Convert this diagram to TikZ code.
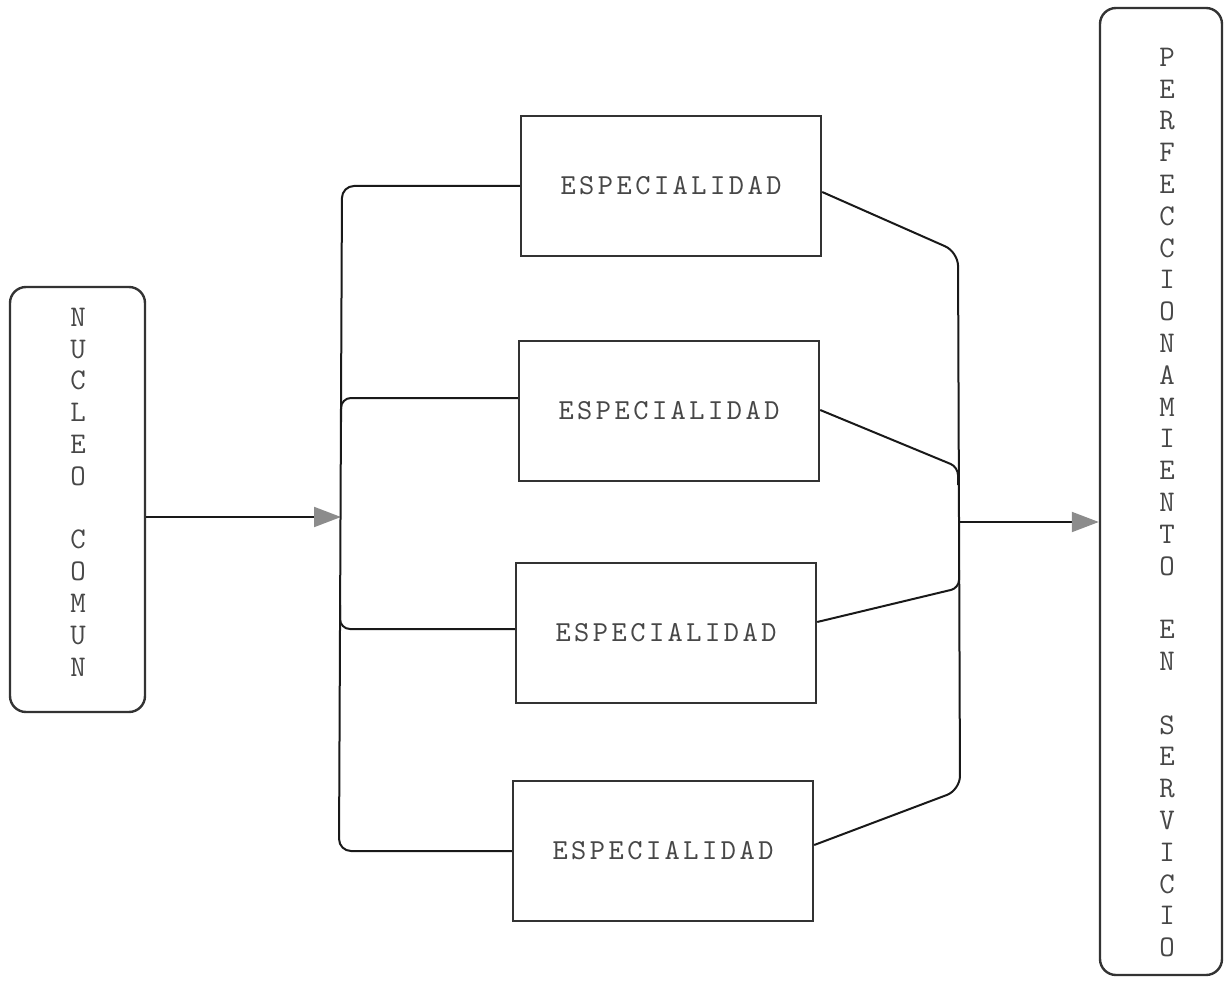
\documentclass[tikz,border=0pt]{standalone}
\usepackage{fontspec}
\newfontfamily\spacedmono{lmmono10-regular.otf}[LetterSpace=12]
\usetikzlibrary{arrows.meta}
\begin{document}
\begin{tikzpicture}[x=1pt,y=-1pt,
  box/.style={draw=black!80, line width=2.4pt, minimum width=300pt, minimum height=140pt, inner sep=0pt,
    text=black!72, font=\spacedmono\fontsize{29}{32}\selectfont},
  tall/.style={draw=black!80, line width=2.4pt, rounded corners=16pt, inner sep=0pt},
  col/.style={text=black!72, align=center, inner sep=0pt, font=\ttfamily\fontsize{30}{31.8}\selectfont},
  wire/.style={line width=2pt, black!90},
  arr/.style={wire, -{Triangle[length=27pt,width=20pt,color=black!45]}},
]
\useasboundingbox (0,0) rectangle (1225,981);

% left box
\node[tall, minimum width=135pt, minimum height=425pt] (nuc) at (77.5,499.5) {};
\node[col] (nucT) at (78,492) {N\\U\\C\\L\\E\\O\\[31.8pt]C\\O\\M\\U\\N};

% right tall box
\node[tall, minimum width=122pt, minimum height=967pt] (perf) at (1161,491.5) {};
\node[col] (perfT) at (1167,502.5) {P\\E\\R\\F\\E\\C\\C\\I\\O\\N\\A\\M\\I\\E\\N\\T\\O\\[31.8pt]E\\N\\[31.8pt]S\\E\\R\\V\\I\\C\\I\\O};

% specialty boxes
\node[box] (e1) at (671,186) {ESPECIALIDAD\hspace{17pt}};
\node[box] (e2) at (669,411) {ESPECIALIDAD\hspace{17pt}};
\node[box] (e3) at (666,633) {ESPECIALIDAD\hspace{17pt}};
\node[box] (e4) at (663,851) {ESPECIALIDAD\hspace{17pt}};

% input arrow
\coordinate (bin) at (341,517);
\draw[arr] (nuc.east |- bin) -- (bin);

% left bus
\draw[wire, rounded corners=12pt] (e1.west) -- (342,186) -- (339,851) -- (e4.west);
\draw[wire, rounded corners=10pt] (341,422) -- (341,398) -- (e2.west |- 0,398);
\draw[wire, rounded corners=10pt] (340,605) -- (340,629) -- (e3.west |- 0,629);

% right bus
\draw[wire, rounded corners=14pt] (e1.east |- 0,192) -- (958,252) -- (960,790) -- (e4.east |- 0,845);
\draw[wire, rounded corners=8pt] (e2.east |- 0,410) -- (958,467) -- (958,485);
\draw[wire, rounded corners=8pt] (e3.east |- 0,622) -- (959,588) -- (959,570);

% output arrow
\coordinate (bout) at (959,522);
\draw[arr] (bout) -- (perf.west |- bout);
\end{tikzpicture}
\end{document}
